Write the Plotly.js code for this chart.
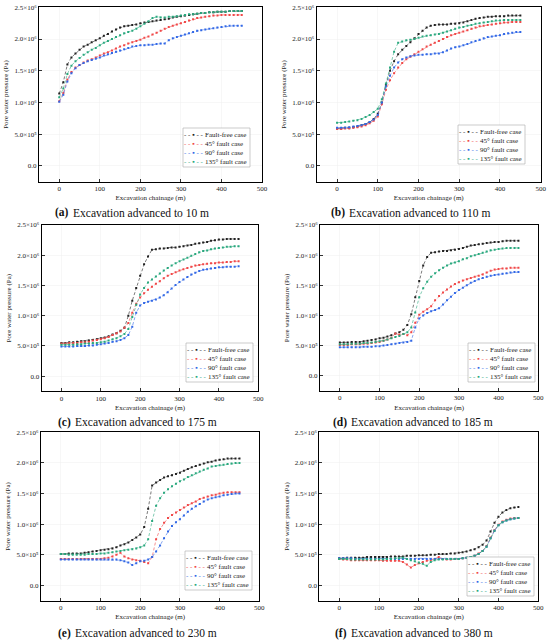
<!DOCTYPE html>
<html><head><meta charset="utf-8">
<script src="https://cdn.plot.ly/plotly-3.0.1.min.js"></script>
<style>html,body{margin:0;padding:0;background:#fff}</style>
</head><body><div id="chart" style="width:550px;height:640px"></div>
<script>
// values in units of 10^6 Pa
const chainage = [0,10,20,30,40,50,60,70,80,90,100,110,120,130,140,150,160,170,180,190,200,210,220,230,240,250,260,270,280,290,300,310,320,330,340,350,360,370,380,390,400,410,420,430,440,450];
const seriesNames = ['Fault-free case','45° fault case','90° fault case','135° fault case'];
const captions = ['Excavation advanced to 10 m','Excavation advanced to 110 m','Excavation advanced to 175 m','Excavation advanced to 185 m','Excavation advanced to 230 m','Excavation advanced to 380 m'];
const letters = ['(a)','(b)','(c)','(d)','(e)','(f)'];
const yTickVals = [0,0.5,1.0,1.5,2.0,2.5];
const yTickText = ['0.0','5.0×10⁵','1.0×10⁶','1.5×10⁶','2.0×10⁶','2.5×10⁶'];

const a_free = [1.14,1.32,1.60,1.71,1.77,1.83,1.88,1.91,1.95,1.98,2.01,2.05,2.08,2.12,2.15,2.18,2.20,2.21,2.22,2.23,2.25,2.26,2.27,2.28,2.29,2.30,2.31,2.32,2.34,2.35,2.36,2.37,2.38,2.39,2.40,2.41,2.41,2.42,2.42,2.43,2.43,2.43,2.44,2.44,2.44,2.44];
const a_45 = [1.02,1.15,1.36,1.48,1.55,1.59,1.63,1.66,1.68,1.71,1.74,1.77,1.79,1.82,1.85,1.88,1.90,1.93,1.95,1.97,1.99,2.02,2.04,2.07,2.10,2.13,2.16,2.19,2.21,2.23,2.25,2.27,2.29,2.31,2.33,2.34,2.35,2.36,2.37,2.37,2.38,2.38,2.38,2.38,2.38,2.38];
const a_90 = [1.01,1.12,1.33,1.46,1.54,1.59,1.62,1.65,1.67,1.69,1.71,1.74,1.76,1.78,1.80,1.82,1.84,1.86,1.88,1.89,1.90,1.90,1.91,1.91,1.92,1.93,1.93,1.98,2.01,2.03,2.05,2.07,2.09,2.11,2.13,2.14,2.15,2.16,2.17,2.18,2.19,2.20,2.21,2.21,2.21,2.21];
const a_135 = [1.08,1.22,1.45,1.58,1.65,1.70,1.75,1.79,1.83,1.86,1.90,1.94,1.97,2.00,2.03,2.06,2.09,2.11,2.13,2.16,2.20,2.24,2.28,2.33,2.35,2.34,2.34,2.35,2.35,2.36,2.37,2.38,2.39,2.39,2.40,2.41,2.41,2.42,2.42,2.43,2.43,2.43,2.44,2.44,2.44,2.44];

const b_free = [0.59,0.59,0.60,0.60,0.61,0.62,0.64,0.66,0.69,0.74,0.82,1.00,1.28,1.50,1.65,1.76,1.83,1.89,1.95,2.01,2.08,2.13,2.18,2.21,2.22,2.23,2.23,2.23,2.24,2.24,2.25,2.26,2.28,2.30,2.32,2.33,2.34,2.35,2.35,2.36,2.36,2.36,2.37,2.37,2.37,2.37];
const b_45 = [0.58,0.58,0.59,0.59,0.60,0.61,0.62,0.64,0.67,0.71,0.78,0.97,1.20,1.35,1.46,1.55,1.62,1.68,1.72,1.76,1.80,1.84,1.88,1.91,1.94,1.97,2.00,2.03,2.06,2.08,2.10,2.12,2.14,2.16,2.18,2.20,2.21,2.22,2.23,2.24,2.25,2.26,2.26,2.27,2.27,2.27];
const b_90 = [0.60,0.60,0.60,0.61,0.62,0.63,0.64,0.66,0.69,0.73,0.80,1.00,1.25,1.42,1.55,1.63,1.68,1.71,1.73,1.74,1.75,1.75,1.76,1.76,1.77,1.77,1.79,1.82,1.85,1.87,1.88,1.90,1.92,1.95,1.97,1.99,2.01,2.03,2.04,2.05,2.06,2.08,2.09,2.10,2.11,2.11];
const b_135 = [0.68,0.68,0.69,0.70,0.71,0.72,0.74,0.77,0.80,0.85,0.90,1.05,1.30,1.55,1.80,1.94,1.96,1.98,1.99,2.00,2.02,2.04,2.05,2.06,2.07,2.08,2.10,2.12,2.14,2.16,2.18,2.19,2.21,2.22,2.24,2.25,2.26,2.27,2.28,2.29,2.29,2.30,2.30,2.30,2.30,2.30];

const c_free = [0.55,0.55,0.56,0.56,0.57,0.58,0.58,0.59,0.60,0.61,0.63,0.64,0.66,0.69,0.71,0.75,0.80,1.00,1.25,1.46,1.66,1.85,1.98,2.09,2.10,2.11,2.11,2.12,2.13,2.13,2.14,2.15,2.16,2.17,2.19,2.20,2.21,2.22,2.24,2.25,2.26,2.26,2.27,2.27,2.27,2.27];
const c_45 = [0.54,0.54,0.55,0.55,0.55,0.56,0.56,0.57,0.59,0.60,0.61,0.63,0.65,0.68,0.71,0.74,0.80,0.88,1.05,1.20,1.30,1.37,1.43,1.48,1.53,1.57,1.62,1.66,1.69,1.72,1.75,1.77,1.79,1.81,1.83,1.84,1.85,1.86,1.87,1.87,1.88,1.88,1.89,1.89,1.90,1.90];
const c_90 = [0.49,0.49,0.49,0.49,0.50,0.50,0.50,0.51,0.51,0.52,0.53,0.54,0.55,0.57,0.58,0.60,0.63,0.68,0.82,1.05,1.17,1.21,1.23,1.25,1.27,1.30,1.34,1.39,1.45,1.51,1.56,1.60,1.64,1.68,1.71,1.74,1.76,1.77,1.78,1.79,1.80,1.80,1.81,1.81,1.81,1.82];
const c_135 = [0.52,0.52,0.52,0.52,0.53,0.53,0.54,0.54,0.55,0.55,0.56,0.57,0.59,0.61,0.63,0.66,0.70,0.78,0.98,1.18,1.35,1.46,1.55,1.60,1.65,1.70,1.75,1.79,1.83,1.87,1.90,1.93,1.96,1.99,2.02,2.05,2.07,2.08,2.10,2.11,2.12,2.13,2.14,2.14,2.15,2.15];

const d_free = [0.55,0.55,0.55,0.56,0.56,0.56,0.57,0.58,0.59,0.60,0.62,0.63,0.65,0.67,0.70,0.72,0.76,0.84,1.02,1.30,1.57,1.83,1.97,2.04,2.05,2.06,2.07,2.07,2.08,2.09,2.10,2.12,2.14,2.16,2.17,2.18,2.19,2.20,2.21,2.22,2.22,2.23,2.24,2.24,2.24,2.24];
const d_45 = [0.51,0.51,0.51,0.52,0.52,0.52,0.53,0.53,0.54,0.55,0.56,0.58,0.60,0.63,0.70,0.68,0.69,0.67,0.72,0.88,1.01,1.06,1.10,1.15,1.25,1.32,1.38,1.43,1.48,1.52,1.55,1.58,1.60,1.62,1.64,1.66,1.68,1.71,1.74,1.76,1.77,1.78,1.78,1.79,1.79,1.79];
const d_90 = [0.47,0.47,0.47,0.47,0.47,0.47,0.48,0.48,0.48,0.49,0.49,0.50,0.51,0.52,0.53,0.54,0.55,0.56,0.58,0.80,0.95,1.00,1.04,1.07,1.09,1.12,1.18,1.25,1.31,1.37,1.42,1.46,1.50,1.54,1.57,1.60,1.62,1.64,1.66,1.67,1.68,1.69,1.70,1.71,1.72,1.72];
const d_135 = [0.52,0.52,0.52,0.53,0.53,0.53,0.54,0.54,0.55,0.56,0.57,0.58,0.60,0.62,0.64,0.66,0.69,0.72,0.80,1.05,1.30,1.45,1.56,1.64,1.70,1.75,1.79,1.83,1.86,1.88,1.90,1.93,1.95,1.98,2.00,2.02,2.04,2.06,2.08,2.09,2.10,2.11,2.12,2.12,2.12,2.12];

const e_free = [0.51,0.51,0.52,0.52,0.52,0.52,0.53,0.54,0.55,0.56,0.57,0.58,0.59,0.60,0.62,0.65,0.67,0.70,0.74,0.78,0.83,0.95,1.25,1.63,1.68,1.72,1.76,1.78,1.80,1.82,1.84,1.87,1.90,1.93,1.95,1.97,1.99,2.01,2.02,2.04,2.05,2.06,2.07,2.07,2.07,2.07];
const e_45 = [0.43,0.43,0.43,0.43,0.43,0.43,0.43,0.43,0.43,0.43,0.43,0.44,0.45,0.47,0.50,0.53,0.47,0.44,0.42,0.41,0.40,0.38,0.36,0.46,0.75,0.92,1.02,1.10,1.15,1.19,1.23,1.27,1.31,1.34,1.37,1.41,1.43,1.45,1.47,1.48,1.50,1.51,1.52,1.52,1.52,1.52];
const e_90 = [0.42,0.42,0.42,0.42,0.42,0.42,0.42,0.42,0.42,0.42,0.42,0.42,0.42,0.42,0.42,0.41,0.39,0.37,0.33,0.36,0.39,0.40,0.42,0.46,0.55,0.65,0.77,0.88,0.97,1.03,1.08,1.14,1.20,1.25,1.29,1.33,1.37,1.40,1.42,1.44,1.45,1.47,1.48,1.49,1.50,1.50];
const e_135 = [0.51,0.51,0.50,0.50,0.50,0.50,0.50,0.51,0.51,0.51,0.52,0.52,0.53,0.54,0.55,0.56,0.57,0.58,0.59,0.60,0.62,0.65,0.75,1.05,1.30,1.42,1.51,1.57,1.62,1.66,1.70,1.73,1.77,1.80,1.83,1.86,1.89,1.91,1.94,1.95,1.96,1.97,1.98,1.99,2.00,2.00];

const f_free = [0.44,0.44,0.45,0.45,0.45,0.45,0.45,0.46,0.46,0.46,0.46,0.46,0.46,0.47,0.47,0.47,0.47,0.48,0.48,0.48,0.49,0.49,0.49,0.50,0.50,0.51,0.51,0.51,0.52,0.52,0.53,0.54,0.55,0.57,0.59,0.62,0.66,0.73,0.88,1.02,1.12,1.19,1.23,1.26,1.27,1.28];
const f_45 = [0.43,0.42,0.42,0.41,0.41,0.41,0.41,0.41,0.41,0.41,0.41,0.40,0.40,0.40,0.40,0.40,0.38,0.34,0.29,0.33,0.36,0.38,0.40,0.41,0.43,0.46,0.43,0.42,0.42,0.43,0.43,0.44,0.45,0.46,0.48,0.52,0.56,0.64,0.78,0.90,0.99,1.04,1.07,1.09,1.10,1.10];
const f_90 = [0.44,0.44,0.44,0.44,0.43,0.43,0.43,0.43,0.43,0.43,0.43,0.43,0.43,0.43,0.43,0.43,0.43,0.43,0.43,0.43,0.43,0.43,0.43,0.43,0.43,0.43,0.43,0.43,0.43,0.43,0.43,0.44,0.45,0.46,0.48,0.51,0.56,0.63,0.77,0.89,0.98,1.03,1.06,1.08,1.09,1.10];
const f_135 = [0.43,0.43,0.43,0.42,0.42,0.42,0.42,0.42,0.42,0.42,0.42,0.42,0.43,0.43,0.44,0.44,0.45,0.43,0.41,0.39,0.37,0.35,0.32,0.38,0.41,0.42,0.42,0.43,0.43,0.43,0.43,0.44,0.45,0.46,0.48,0.51,0.56,0.63,0.77,0.89,0.98,1.03,1.06,1.08,1.09,1.10];

const panels = [
  [a_free,a_45,a_90,a_135],[b_free,b_45,b_90,b_135],[c_free,c_45,c_90,c_135],
  [d_free,d_45,d_90,d_135],[e_free,e_45,e_90,e_135],[f_free,f_45,f_90,f_135]
];
const colors = ['#222222','#f04848','#3268e6','#2aa87e'];

// layout geometry
const W = 550, H = 640;
const xDomains = [[0.0709,0.4764],[0.5758,0.9831],[0.0758,0.4696],[0.5818,0.9787],[0.0745,0.4715],[0.5805,0.9787]];
const yDomains = [[0.7161,0.9886],[0.7161,0.9886],[0.3885,0.6484],[0.3895,0.6484],[0.0617,0.3245],[0.0617,0.3245]];
// legend box: right edge and bottom edge in pixels
const legendBox = [[250,167],[525,164],[253,382],[535,382],[252,590],[534,596]];
// caption centre (pixels)
const captionCtr = [[134,213],[410,213],[136,422],[412,422],[136,633],[412,633]];

const px = v => v / W;
const py = v => 1 - v / H;
const serif = 'Liberation Serif, Times New Roman, serif';
const traces = [];
const layout = {
  width:W, height:H, margin:{l:0,r:0,t:0,b:0},
  paper_bgcolor:'#fff', plot_bgcolor:'#fff', showlegend:false,
  font:{family:serif, size:7, color:'#222'},
  annotations:[], shapes:[]
};

panels.forEach((series, p) => {
  const s = p === 0 ? '' : String(p + 1);
  series.forEach((vals, k) => {
    traces.push({
      type:'scatter', mode:'lines+markers', x:chainage, y:vals, name:seriesNames[k],
      xaxis:'x'+s, yaxis:'y'+s,
      line:{color:colors[k], width:0.6, dash:'3px,2px'},
      marker:{color:colors[k], size:2, symbol:'square'}
    });
  });
  layout['xaxis'+s] = {
    domain:xDomains[p], anchor:'y'+s, range:[-50,500],
    tickmode:'linear', tick0:0, dtick:100, ticks:'inside', ticklen:3, tickwidth:0.8, tickcolor:'#000',
    showline:true, linecolor:'#000', linewidth:1, mirror:true, zeroline:false,
    showgrid:true, gridcolor:'#f0f0f0', gridwidth:0.5,
    tickfont:{family:serif, size:7, color:'#222'},
    title:{text:'Excavation chainage (m)', font:{family:serif, size:7, color:'#222'}, standoff:3}
  };
  layout['yaxis'+s] = {
    domain:yDomains[p], anchor:'x'+s, range:[-0.25,2.5],
    tickmode:'array', tickvals:yTickVals, ticktext:yTickText,
    ticks:'inside', ticklen:3, tickwidth:0.8, tickcolor:'#000',
    showline:true, linecolor:'#000', linewidth:1, mirror:true, zeroline:false,
    showgrid:true, gridcolor:'#f0f0f0', gridwidth:0.5,
    tickfont:{family:serif, size:7, color:'#222'},
    title:{text:'Pore water pressure (Pa)', font:{family:serif, size:7, color:'#222'}, standoff:4}
  };
  // legend box
  const [R, B] = legendBox[p];
  const L = R - 67, T = B - 39;
  layout.shapes.push({
    type:'rect', xref:'paper', yref:'paper', x0:px(L), x1:px(R), y0:py(B), y1:py(T),
    line:{color:'#aaa', width:0.6}, fillcolor:'#fff', layer:'above'
  });
  seriesNames.forEach((n, k) => {
    const yc = T + 7 + 9 * k;
    layout.annotations.push({
      xref:'paper', yref:'paper', x:px(L + 10), y:py(yc), xanchor:'center', yanchor:'middle',
      showarrow:false, text:'- - ▪ - -', font:{family:serif, size:7, color:colors[k]}
    });
    layout.annotations.push({
      xref:'paper', yref:'paper', x:px(L + 20), y:py(yc), xanchor:'left', yanchor:'middle',
      showarrow:false, text:n, font:{family:serif, size:7, color:'#222'}
    });
  });
  // caption
  const [cx, cy] = captionCtr[p];
  layout.annotations.push({
    xref:'paper', yref:'paper', x:px(cx - 63), y:py(cy), xanchor:'right', yanchor:'middle',
    showarrow:false, text:letters[p], font:{family:serif, size:11.5, color:'#111', weight:'bold'}
  });
  layout.annotations.push({
    xref:'paper', yref:'paper', x:px(cx - 63.5), y:py(cy), xanchor:'left', yanchor:'middle',
    showarrow:false, text:captions[p], font:{family:serif, size:11.5, color:'#111'}
  });
});

Plotly.newPlot('chart', traces, layout, {staticPlot:true, displayModeBar:false});
</script>
</body></html>
